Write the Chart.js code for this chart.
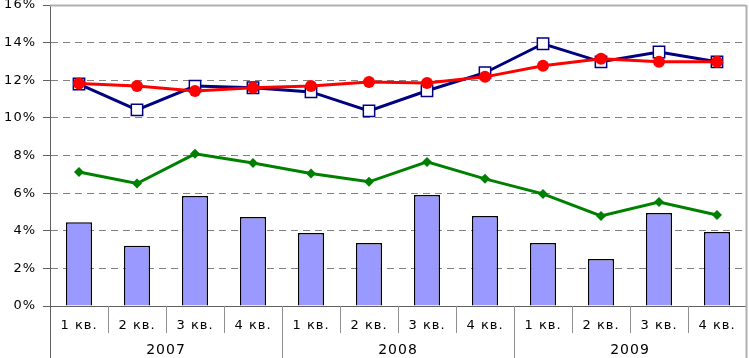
<!DOCTYPE html>
<html>
<head>
<meta charset="utf-8">
<script src="https://cdn.jsdelivr.net/npm/chart.js@4/dist/chart.umd.min.js"></script>
<style>
  html, body { margin: 0; padding: 0; background: #fff; }
  canvas { display: block; }
</style>
</head>
<body>
<canvas id="quarterChart" width="749" height="358"></canvas>
<script>
// Quarter labels and years (two-level category axis)
var quarters = ["1 кв.", "2 кв.", "3 кв.", "4 кв.", "1 кв.", "2 кв.", "3 кв.", "4 кв.", "1 кв.", "2 кв.", "3 кв.", "4 кв."];
var years = ["2007", "2008", "2009"];
var yTicks = [0, 2, 4, 6, 8, 10, 12, 14, 16];

// Series values, %
var barValues = [4.45, 3.2, 5.85, 4.73, 3.88, 3.35, 5.9, 4.79, 3.35, 2.5, 4.95, 3.94];
var greenValues = [7.12, 6.51, 8.09, 7.6, 7.04, 6.6, 7.66, 6.76, 5.96, 4.79, 5.53, 4.84];
var redValues = [11.83, 11.69, 11.43, 11.6, 11.7, 11.91, 11.86, 12.18, 12.77, 13.14, 12.98, 12.98];
var blueValues = [11.8, 10.43, 11.69, 11.6, 11.38, 10.37, 11.44, 12.4, 13.94, 12.98, 13.5, 12.98];

var labelFont = { family: "'DejaVu Sans', sans-serif", size: 13 };

// Draws the frame (top/right), the category separators and the extended left axis
var framePlugin = {
    id: "frame",
    afterLayout: function (chart) {
        // pull the plot top up to 5px, like the original (its 16% label is cut off)
        var y = chart.scales.y;
        var area = chart.chartArea;
        area.top = 5;
        area.height = area.bottom - area.top;
        y.top = 5;
        y.height = y.bottom - y.top;
        y.configure();
    },
    beforeDraw: function (chart) {
        chart.ctx.letterSpacing = "1px";
    },
    afterDraw: function (chart) {
        var ctx = chart.ctx;
        var area = chart.chartArea;
        var x = chart.scales.x;
        var h = chart.height;
        ctx.save();

        // grey top and right border
        ctx.strokeStyle = "#b0b0b0";
        ctx.lineWidth = 2;
        ctx.beginPath();
        ctx.moveTo(area.left, area.top + 0.5);
        ctx.lineTo(area.right, area.top + 0.5);
        ctx.moveTo(area.right + 0.5, area.top);
        ctx.lineTo(area.right + 0.5, h);
        ctx.stroke();

        // separators between quarters and years
        ctx.lineWidth = 1;
        ctx.strokeStyle = "#909090";
        ctx.beginPath();
        for (var i = 1; i < quarters.length; i++) {
            var bx = Math.round((x.getPixelForTick(i - 1) + x.getPixelForTick(i)) / 2) + 0.5;
            var yearEdge = i % 4 === 0;
            ctx.moveTo(bx, area.bottom);
            ctx.lineTo(bx, yearEdge ? h : area.bottom + 27);
        }
        ctx.stroke();

        // left axis continues down through the label rows
        ctx.strokeStyle = "#606060";
        ctx.beginPath();
        ctx.moveTo(area.left + 0.5, area.bottom);
        ctx.lineTo(area.left + 0.5, h);
        ctx.stroke();
        ctx.restore();
    }
};

var ctx = document.getElementById("quarterChart").getContext("2d");

var quarterChart = new Chart(ctx, {
    type: "bar",
    data: {
        labels: quarters,
        datasets: [
            {
                type: "line",
                data: redValues,
                borderColor: "#ff0000",
                backgroundColor: "#ff0000",
                borderWidth: 3,
                pointStyle: "circle",
                pointRadius: 6,
                pointBorderWidth: 0,
                order: 0
            },
            {
                type: "line",
                data: blueValues,
                borderColor: "#000080",
                backgroundColor: "#ffffff",
                borderWidth: 3,
                pointStyle: "rect",
                pointRadius: 8,
                pointBorderWidth: 1.5,
                order: 1
            },
            {
                type: "line",
                data: greenValues,
                borderColor: "#008000",
                backgroundColor: "#008000",
                borderWidth: 3,
                pointStyle: "rectRot",
                pointRadius: 5,
                pointBorderWidth: 0,
                order: 2
            },
            {
                data: barValues,
                backgroundColor: "#9999ff",
                borderColor: "#000000",
                borderWidth: 1.5,
                barPercentage: 0.9,
                categoryPercentage: 0.5,
                order: 3
            }
        ]
    },
    options: {
        responsive: false,
        animation: false,
        layout: { autoPadding: false, padding: { top: 5, right: 3, left: 0, bottom: 0 } },
        plugins: {
            legend: { display: false },
            tooltip: { enabled: false }
        },
        scales: {
            x: {
                offset: true,
                grid: { display: false, drawTicks: false },
                border: { color: "#606060", width: 1 },
                ticks: { color: "#000", font: labelFont, padding: 12, maxRotation: 0, autoSkip: false },
                afterFit: function (s) { s.height = 28; }
            },
            x2: {
                type: "category",
                labels: years,
                position: "bottom",
                offset: true,
                grid: { display: false, drawTicks: false },
                border: { display: false },
                ticks: { color: "#000", font: { family: labelFont.family, size: 14 }, padding: 8, maxRotation: 0 },
                afterFit: function (s) { s.height = 24; }
            },
            y: {
                min: 0,
                max: 16,
                afterBuildTicks: function (s) {
                    s.ticks = yTicks.map(function (v) { return { value: v }; });
                },
                grid: {
                    color: "#808080",
                    tickColor: "#606060",
                    tickLength: 7,
                    lineWidth: 1
                },
                border: { color: "#606060", width: 1, dash: [7, 5] },
                ticks: {
                    color: "#000",
                    font: labelFont,
                    padding: 7,
                    callback: function (v) { return v + "%"; }
                },
                afterFit: function (s) { s.width = 50; }
            }
        }
    },
    plugins: [framePlugin]
});
</script>
</body>
</html>
